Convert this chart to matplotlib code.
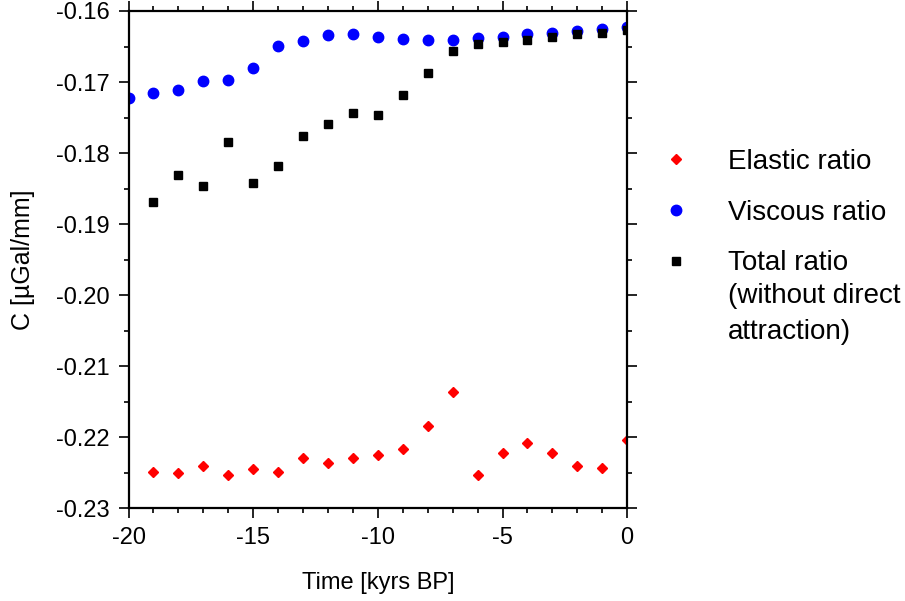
import numpy as np
import matplotlib
matplotlib.use('Agg')
import matplotlib.pyplot as plt
from matplotlib.ticker import MultipleLocator, FormatStrFormatter

plt.rcParams['font.family'] = ['Liberation Sans', 'DejaVu Sans']

# time axis [kyrs BP]
time_all = np.arange(-20, 1)          # -20 .. 0
time_19 = np.arange(-19, 1)           # -19 .. 0

elastic = [-0.2249, -0.2250, -0.2241, -0.2253, -0.2245, -0.2249, -0.2230, -0.2236,
           -0.2229, -0.2225, -0.2217, -0.2184, -0.2137, -0.2254, -0.2223, -0.2208,
           -0.2223, -0.2241, -0.2243, -0.2204]
viscous = [-0.1723, -0.1716, -0.1711, -0.1698, -0.1697, -0.1680, -0.1649, -0.1642,
           -0.1634, -0.1633, -0.1636, -0.1640, -0.1641, -0.1641, -0.1638, -0.1636,
           -0.1633, -0.1631, -0.1628, -0.1625, -0.1622]
total = [-0.1869, -0.1831, -0.1847, -0.1784, -0.1842, -0.1818, -0.1776, -0.1759,
         -0.1744, -0.1747, -0.1719, -0.1688, -0.1657, -0.1646, -0.1644, -0.1641,
         -0.1637, -0.1633, -0.1631, -0.1627]

fig = plt.figure(figsize=(9.05, 6.01), dpi=100)
ax = fig.add_axes([0.142, 0.1547, 0.551, 0.827])

ax.plot(time_19, elastic, linestyle='none', marker='D', markersize=5.2,
        color='#ff0000', label='Elastic ratio')
ax.plot(time_all, viscous, linestyle='none', marker='o', markersize=7.5,
        color='#0000ff', label='Viscous ratio')
ax.plot(time_19, total, linestyle='none', marker='s', markersize=6,
        color='black', label='Total ratio')

ax.set_xlim(-20, 0)
ax.set_ylim(-0.23, -0.16)
ax.xaxis.set_major_locator(MultipleLocator(5))
ax.xaxis.set_minor_locator(MultipleLocator(1))
ax.yaxis.set_major_locator(MultipleLocator(0.01))
ax.yaxis.set_minor_locator(MultipleLocator(0.005))
ax.yaxis.set_major_formatter(FormatStrFormatter('%.2f'))
ax.xaxis.set_major_formatter(FormatStrFormatter('%d'))
ax.tick_params(which='both', direction='out', top=True, right=True,
               labeltop=False, labelright=False, width=1.2, labelsize=17)
ax.tick_params(which='major', length=7, pad=6.5)
ax.tick_params(which='minor', length=3.5)
for sp in ax.spines.values():
    sp.set_linewidth(1.6)

ax.set_xlabel('Time [kyrs BP]', fontsize=17, labelpad=17)
ax.set_ylabel('C [µGal/mm]', fontsize=18, labelpad=15)

leg = ax.legend(loc='upper left', bbox_to_anchor=(0.7315, 0.752),
                bbox_transform=fig.transFigure, frameon=False,
                fontsize=20, handlelength=1, handletextpad=1.37,
                labelspacing=0.89, borderpad=0, borderaxespad=0)

# continuation of the last legend label, kept aligned with its first line
# (zorder above the legend so it is placed after the legend texts)
ax.annotate('(without direct\nattraction)', xy=(0, 1), xycoords=leg.get_texts()[2],
            xytext=(0, -23.3), textcoords='offset points', ha='left', va='top',
            fontsize=20, linespacing=1.49, annotation_clip=False, zorder=10)

fig.savefig('out.png', dpi=100)
